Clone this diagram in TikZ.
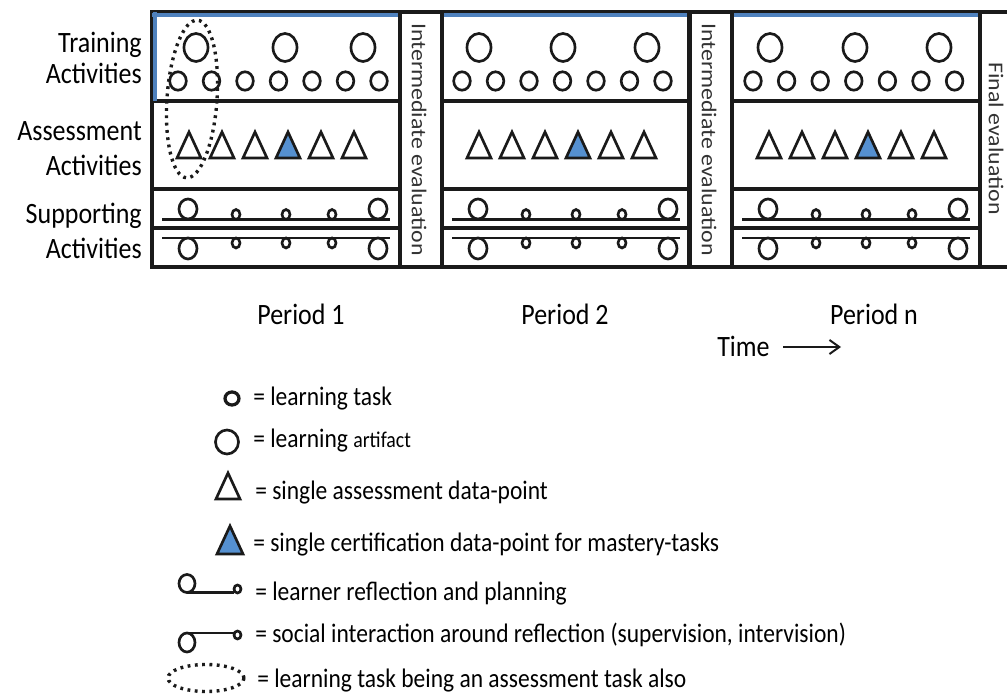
\documentclass[tikz,border=0pt]{standalone}
\usepackage{fontspec}
\setmainfont{Carlito}[FakeStretch=0.88]
\newfontfamily\evalfont{Carlito}[FakeStretch=1.13]
\usetikzlibrary{arrows.meta}
\definecolor{inkline}{HTML}{1A1A1A}
\definecolor{topblue}{HTML}{4F81BD}
\definecolor{certblue}{HTML}{5590D0}
\definecolor{evalgray}{HTML}{333333}
\newcommand{\dpoint}[3][white]{\draw[tri, fill=#1] (#2,#3) ++(-12,0) -- ++(12,-26) -- ++(12,26) -- cycle;}

\begin{document}
\begin{tikzpicture}[
  x=0.025cm, y=-0.025cm,
  >={Straight Barb[length=7pt,width=10pt]},
  frame/.style={draw=inkline, line width=2.5pt},
  topline/.style={draw=topblue, line width=2.2pt},
  ring/.style={draw=inkline, line width=1.9pt},
  tri/.style={draw=inkline, line width=1.9pt, line join=miter},
  rail/.style={draw=inkline, line width=1.8pt},
  dotring/.style={draw=inkline, line width=2.4pt, dash pattern=on 2pt off 3.2pt},
  rowlab/.style={font=\fontsize{21}{25}\selectfont, align=right, anchor=east, inner sep=0pt},
  evallab/.style={font=\evalfont\fontsize{15}{18}\selectfont, text=evalgray, rotate=-90, inner sep=0pt},
  perlab/.style={font=\fontsize{21}{24}\selectfont, anchor=base, inner sep=0pt},
  leglab/.style={font=\fontsize{19}{22}\selectfont, anchor=base west, inner sep=0pt},
  arr/.style={->, draw=inkline, line width=1.4pt},
]
\useasboundingbox (0,0) rectangle (1007,694);

% ---- row labels ----
\node[rowlab] (trainlab)   at (142,58)    {Training\\[-3.5pt]Activities};
\node[rowlab] (assesslab)  at (142,148.5) {Assessment\\Activities};
\node[rowlab] (supportlab) at (142,230.5) {Supporting\\Activities};

% ---- periods ----
\foreach \px/\ba/\bb/\bc/\so/\st in {152/44/133/211/26/33.5, 442/37/121/205/20/33.5, 732/38/123/207/21/33.6}{
  \draw[frame] (\px,12) rectangle (\px+248,267);
  \draw[frame] (\px,101) -- (\px+248,101);
  \draw[frame] (\px,189) -- (\px+248,189);
  \draw[frame] (\px,228) -- (\px+248,228);
  \draw[topline] (\px,15) -- (\px+248,15);
  % training: artifacts + tasks
  \foreach \b in {\ba,\bb,\bc}
    \draw[ring] (\px+\b,47.5) ellipse [x radius=12, y radius=14];
  \foreach \k in {0,...,6}
    \draw[ring] (\px+\so+\st*\k,81) ellipse [x radius=8.3, y radius=9.2];
  % assessment
  \foreach \k in {0,1,2,4,5}{\dpoint{\px+37+33*\k}{158}}
  \dpoint[certblue]{\px+136}{158}
  % supporting: reflection (top) and interaction (bottom)
  \draw[rail] (\px+10,219.5) -- (\px+238,219.5);
  \draw[rail] (\px+10,238) -- (\px+238,238);
  \foreach \d in {36,226}{
    \draw[ring] (\px+\d,209) ellipse [x radius=9, y radius=10];
    \draw[ring] (\px+\d,248.5) ellipse [x radius=9, y radius=10.5];
  }
  \foreach \d in {84,134,180}{
    \draw[ring] (\px+\d,214.5) ellipse [x radius=4, y radius=5];
    \draw[ring] (\px+\d,243) ellipse [x radius=4, y radius=5];
  }
}
\draw[topline] (155,12) -- (155,101);
\draw[dotring] (192,99) ellipse [x radius=25, y radius=79, rotate=-4];

% ---- evaluations ----
\draw[frame] (400,12) rectangle (442,267);
\draw[frame] (689,12) rectangle (732,267);
\draw[frame] (1012,12) -- (980,12) -- (980,267) -- (1012,267);
\node[evallab] (eval1) at (419,139.5) {Intermediate evaluation};
\node[evallab] (eval2) at (709,139.5) {Intermediate evaluation};
\node[evallab] (evalf) at (996,138.5) {Final evaluation};

% ---- periods + time ----
\node[perlab] (per1) at (301,325) {Period 1};
\node[perlab] (per2) at (565,325) {Period 2};
\node[perlab] (pern) at (874,325) {Period n};
\node[perlab, anchor=base west] (time) at (717,357) {Time};
\coordinate (tfrom) at (783,347);
\coordinate (tto)   at (841,347);
\draw[arr] (tfrom) -- (tto);

% ---- legend ----
\draw[ring, line width=2.3pt] (232,398.5) ellipse [x radius=7, y radius=6.5];
\node[leglab] (lg1) at (253,406) {= learning task};
\draw[ring] (227,442) ellipse [x radius=11.5, y radius=12];
\node[leglab] (lg2) at (253,448) {= learning {\fontsize{16}{18}\selectfont artifact}};
\dpoint{228}{499}
\node[leglab] (lg3) at (255,500) {= single assessment data-point};
\draw[tri, fill=certblue] (217,554) -- (230,526) -- (243,554) -- cycle;
\node[leglab] (lg4) at (253,552) {= single certification data-point for mastery-tasks};
\draw[rail] (187,592.5) -- (234,592.5);
\draw[ring] (187,583.5) ellipse [x radius=8, y radius=9];
\draw[ring] (237.5,589) ellipse [x radius=3.5, y radius=4];
\node[leglab] (lg5) at (255,600) {= learner reflection and planning};
\draw[rail] (187,633) -- (234,633);
\draw[ring] (187,642.5) ellipse [x radius=8, y radius=9.5];
\draw[ring] (237.5,635) ellipse [x radius=3.5, y radius=4];
\node[leglab] (lg6) at (255,642) {= social interaction around reflection (supervision, intervision)};
\draw[dotring] (206,678) ellipse [x radius=38, y radius=13.5];
\node[leglab] (lg7) at (257,687) {= learning task being an assessment task also};

\end{tikzpicture}
\end{document}
